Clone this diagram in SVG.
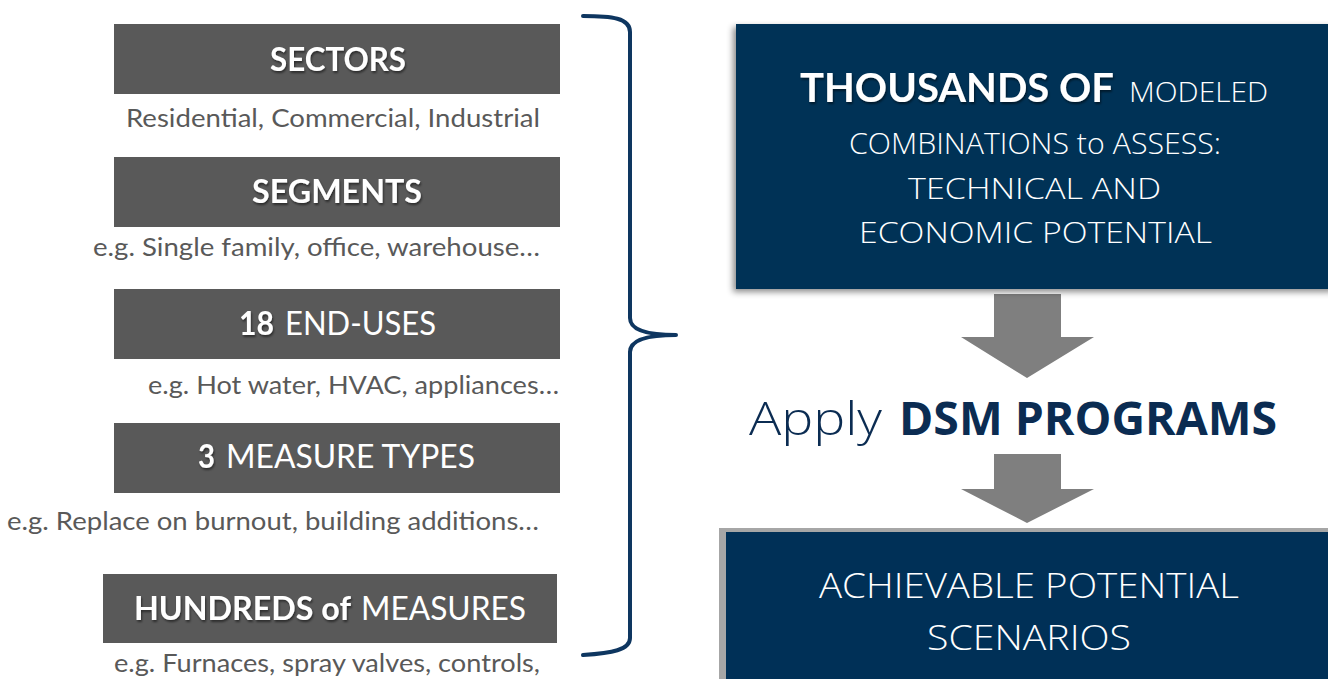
<svg xmlns="http://www.w3.org/2000/svg" width="1328" height="679" viewBox="0 0 1328 679">
<defs>
<style>
.gbox{fill:#595959}
.ttl{font-family:Lato,"Liberation Sans",sans-serif;font-size:32px;fill:#ffffff}
.b{font-weight:bold}
.sub{font-family:Lato,"Liberation Sans",sans-serif;font-size:25px;fill:#595959}
.cg{font-family:"Open Sans","Liberation Sans",sans-serif;font-weight:300;fill:#ffffff}
.navy{fill:#003057}
.arrow{fill:#7f7f7f}
.brace{fill:none;stroke:#0e3660;stroke-width:4;stroke-linecap:round;stroke-linejoin:round}
</style>
<filter id="shadow" x="-10%" y="-10%" width="120%" height="130%">
<feDropShadow dx="-3" dy="3" stdDeviation="3" flood-color="#000" flood-opacity="0.45"/>
</filter>
<filter id="tshadow" x="-5%" y="-20%" width="110%" height="150%">
<feDropShadow dx="1" dy="2" stdDeviation="1" flood-color="#000" flood-opacity="0.5"/>
</filter>
</defs>
<rect width="1328" height="679" fill="#ffffff"/>

<g id="sectors">
<rect class="gbox" x="114" y="24" width="446" height="70"/>
<text class="ttl b" x="270" y="71" textLength="136" lengthAdjust="spacingAndGlyphs" filter="url(#tshadow)">SECTORS</text>
<text class="sub" x="126" y="127" textLength="414" lengthAdjust="spacingAndGlyphs">Residential, Commercial, Industrial</text>
</g>

<g id="segments">
<rect class="gbox" x="114" y="157" width="446" height="70"/>
<text class="ttl b" x="252" y="203" textLength="170" lengthAdjust="spacingAndGlyphs" filter="url(#tshadow)">SEGMENTS</text>
<text class="sub" x="93" y="256" textLength="447" lengthAdjust="spacingAndGlyphs">e.g. Single family, office, warehouse…</text>
</g>

<g id="end-uses">
<rect class="gbox" x="114" y="289" width="446" height="70"/>
<text class="ttl b" x="239" y="335" textLength="35" lengthAdjust="spacingAndGlyphs" filter="url(#tshadow)">18</text>
<text class="ttl" x="285" y="335" textLength="151" lengthAdjust="spacingAndGlyphs">END-USES</text>
<text class="sub" x="148" y="394" textLength="411" lengthAdjust="spacingAndGlyphs">e.g. Hot water, HVAC, appliances…</text>
</g>

<g id="measure-types">
<rect class="gbox" x="114" y="423" width="446" height="70"/>
<text class="ttl b" x="198" y="468" textLength="17" lengthAdjust="spacingAndGlyphs" filter="url(#tshadow)">3</text>
<text class="ttl" x="226" y="468" textLength="249" lengthAdjust="spacingAndGlyphs">MEASURE TYPES</text>
<text class="sub" x="7" y="530" textLength="532" lengthAdjust="spacingAndGlyphs">e.g. Replace on burnout, building additions…</text>
</g>

<g id="measures">
<rect class="gbox" x="103" y="574" width="454" height="69"/>
<text class="ttl b" x="134" y="620" textLength="217" lengthAdjust="spacingAndGlyphs" filter="url(#tshadow)">HUNDREDS of</text>
<text class="ttl" x="361" y="620" textLength="165" lengthAdjust="spacingAndGlyphs">MEASURES</text>
<text class="sub" x="114" y="672" textLength="426" lengthAdjust="spacingAndGlyphs">e.g. Furnaces, spray valves, controls,</text>
</g>

<g id="connectors">
<path class="brace" d="M583,16 C612,16 630,18 630,32 L630,318 C630,330 648,335 676,335 C648,335 630,340 630,352 L630,638 C630,650 612,653 583,655"/>
<path class="arrow" d="M994,294 L1061,294 L1061,337 L1094,337 L1027,378 L961,337 L994,337 Z"/>
<path class="arrow" d="M994,454 L1061,454 L1061,489 L1094,489 L1027,523 L961,489 L994,489 Z"/>
</g>

<g id="combinations">
<rect class="navy" x="736" y="24" width="600" height="265" filter="url(#shadow)"/>
<text x="800" y="102" font-size="40" font-weight="bold" fill="#ffffff" textLength="314" lengthAdjust="spacingAndGlyphs" font-family="Lato, 'Liberation Sans', sans-serif" filter="url(#tshadow)">THOUSANDS OF</text>
<text class="cg" x="1129" y="102" font-size="28" textLength="139" lengthAdjust="spacingAndGlyphs">MODELED</text>
<text class="cg" x="849" y="154" font-size="29" textLength="372" lengthAdjust="spacingAndGlyphs">COMBINATIONS to ASSESS:</text>
<text class="cg" x="908" y="199" font-size="29" textLength="253" lengthAdjust="spacingAndGlyphs">TECHNICAL AND</text>
<text class="cg" x="859" y="243" font-size="29" textLength="353" lengthAdjust="spacingAndGlyphs">ECONOMIC POTENTIAL</text>
</g>

<g id="dsm-programs">
<text x="749" y="435" font-family="'Open Sans', 'Liberation Sans', sans-serif" font-weight="300" font-size="46" fill="#0b2c52" textLength="133" lengthAdjust="spacingAndGlyphs">Apply</text>
<text x="899" y="435" font-family="'Open Sans', 'Liberation Sans', sans-serif" font-size="46" font-weight="bold" fill="#0b2c52" textLength="378" lengthAdjust="spacingAndGlyphs">DSM PROGRAMS</text>
</g>

<g id="achievable">
<rect x="719" y="528" width="620" height="160" fill="#a6a6a6"/>
<rect class="navy" x="726" y="532" width="610" height="160"/>
<text class="cg" x="819" y="598" font-size="35" textLength="420" lengthAdjust="spacingAndGlyphs">ACHIEVABLE POTENTIAL</text>
<text class="cg" x="927" y="650" font-size="35" textLength="204" lengthAdjust="spacingAndGlyphs">SCENARIOS</text>
</g>
</svg>
